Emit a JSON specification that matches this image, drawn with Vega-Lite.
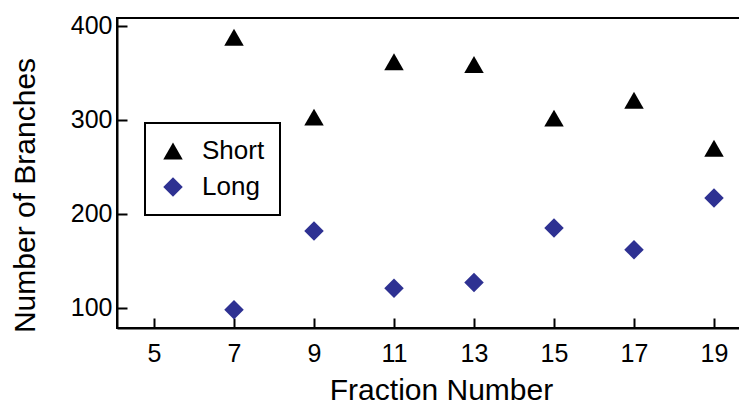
{
  "$schema": "https://vega.github.io/schema/vega-lite/v6.json",
  "width": 625,
  "height": 310,
  "autosize": {"type": "none"},
  "padding": {"left": 117, "top": 18, "right": 0, "bottom": 77},
  "background": "white",
  "config": {
    "font": "Liberation Sans",
    "view": {"stroke": "black", "strokeWidth": 2},
    "legend": {"strokeWidth": 2, "strokeColor": "black"},
    "axis": {
      "domainColor": "black",
      "domainWidth": 2,
      "tickColor": "black",
      "tickWidth": 2,
      "tickSize": -10,
      "labelColor": "black",
      "labelFontSize": 25,
      "titleColor": "black",
      "titleFontSize": 30,
      "titleFontWeight": "normal",
      "grid": false
    }
  },
  "data": {
    "values": [
      {"fraction": 7, "branches": 388, "type": "Short"},
      {"fraction": 9, "branches": 303, "type": "Short"},
      {"fraction": 11, "branches": 362, "type": "Short"},
      {"fraction": 13, "branches": 359, "type": "Short"},
      {"fraction": 15, "branches": 302, "type": "Short"},
      {"fraction": 17, "branches": 321, "type": "Short"},
      {"fraction": 19, "branches": 270, "type": "Short"},
      {"fraction": 7, "branches": 98, "type": "Long"},
      {"fraction": 9, "branches": 182, "type": "Long"},
      {"fraction": 11, "branches": 121, "type": "Long"},
      {"fraction": 13, "branches": 127, "type": "Long"},
      {"fraction": 15, "branches": 185, "type": "Long"},
      {"fraction": 17, "branches": 162, "type": "Long"},
      {"fraction": 19, "branches": 217, "type": "Long"}
    ]
  },
  "mark": {"type": "point", "filled": true, "size": 380, "opacity": 1},
  "encoding": {
    "x": {
      "field": "fraction",
      "type": "quantitative",
      "title": "Fraction Number",
      "scale": {"domain": [4.075, 19.7], "nice": false, "zero": false},
      "axis": {
        "values": [5, 7, 9, 11, 13, 15, 17, 19],
        "labelPadding": 23,
        "titleBaseline": "alphabetic",
        "titleX": 324,
        "titleY": 71
      }
    },
    "y": {
      "field": "branches",
      "type": "quantitative",
      "title": "Number of Branches",
      "scale": {"domain": [78.7, 408.5], "nice": false, "zero": false},
      "axis": {
        "values": [100, 200, 300, 400],
        "labelPadding": 15,
        "titleBaseline": "alphabetic",
        "titleX": -83,
        "titleY": 177
      }
    },
    "color": {
      "field": "type",
      "type": "nominal",
      "scale": {"domain": ["Short", "Long"], "range": ["black", "#2e3192"]},
      "legend": {
        "title": null,
        "orient": "none",
        "legendX": 28,
        "legendY": 105,
        "strokeColor": "black",
        "padding": 15,
        "labelFontSize": 26,
        "labelColor": "black",
        "labelOffset": 16,
        "rowPadding": 10,
        "symbolSize": 380,
        "symbolOpacity": 1
      }
    },
    "shape": {
      "field": "type",
      "type": "nominal",
      "scale": {"domain": ["Short", "Long"], "range": ["triangle-up", "diamond"]},
      "legend": {
        "title": null,
        "orient": "none",
        "legendX": 28,
        "legendY": 105,
        "strokeColor": "black",
        "padding": 15,
        "labelFontSize": 26,
        "labelColor": "black",
        "labelOffset": 16,
        "rowPadding": 10,
        "symbolSize": 380,
        "symbolOpacity": 1
      }
    }
  }
}
